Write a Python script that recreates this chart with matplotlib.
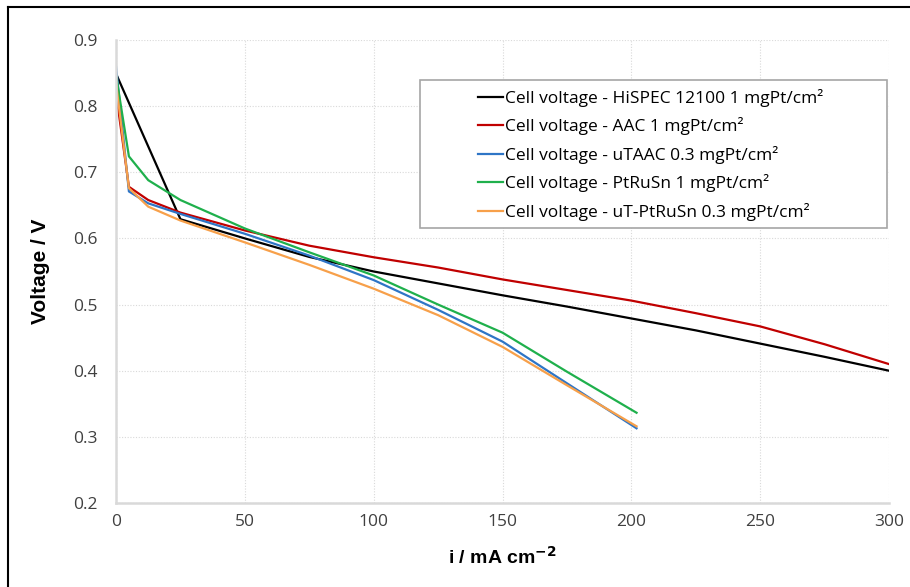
import matplotlib
matplotlib.use("Agg")
import matplotlib.pyplot as plt
from matplotlib.patches import Rectangle
from matplotlib.lines import Line2D

# current density (mA/cm2) and cell voltage (V)
x_long = [0, 25, 50, 75, 100, 125, 150, 175, 200, 225, 250, 275, 300]
v_hispec = [0.849, 0.629, 0.600, 0.572, 0.550, 0.532, 0.514, 0.497, 0.479, 0.461, 0.441, 0.421, 0.400]

x_aac = [0, 5, 12.5, 25, 50, 75, 100, 125, 150, 175, 200, 225, 250, 275, 300]
v_aac = [0.82, 0.678, 0.658, 0.639, 0.612, 0.589, 0.5715, 0.556, 0.538, 0.522, 0.506, 0.487, 0.467, 0.440, 0.410]

x_short = [0, 5, 12.5, 25, 50, 75, 100, 125, 150, 175, 202]
v_utaac = [0.86, 0.671, 0.653, 0.637, 0.607, 0.574, 0.537, 0.492, 0.444, 0.381, 0.313]
v_ptrusn = [0.847, 0.724, 0.688, 0.658, 0.615, 0.579, 0.544, 0.500, 0.4575, 0.3985, 0.3365]
v_ut_ptrusn = [0.835, 0.676, 0.648, 0.627, 0.594, 0.560, 0.524, 0.484, 0.436, 0.378, 0.316]

labels = [
    "Cell voltage - HiSPEC 12100 1 mgPt/cm²",
    "Cell voltage - AAC 1 mgPt/cm²",
    "Cell voltage - uTAAC 0.3 mgPt/cm²",
    "Cell voltage - PtRuSn 1 mgPt/cm²",
    "Cell voltage - uT-PtRuSn 0.3 mgPt/cm²",
]
colors = ["#000000", "#c00000", "#2e75c6", "#1fb04c", "#f7a04a"]

x_ticks = [0, 50, 100, 150, 200, 250, 300]
y_ticks = [0.2, 0.3, 0.4, 0.5, 0.6, 0.7, 0.8, 0.9]

plt.rcParams["font.family"] = ["Open Sans", "DejaVu Sans"]
plt.rcParams["mathtext.default"] = "bf"

fig = plt.figure(figsize=(9.1, 5.87), dpi=100)
ax = fig.add_axes([0.1275, 0.143, 0.8495, 0.789])

series = [(x_long, v_hispec), (x_aac, v_aac), (x_short, v_utaac),
          (x_short, v_ptrusn), (x_short, v_ut_ptrusn)]
for (xs, ys), lab, c in zip(series, labels, colors):
    ax.plot(xs, ys, color=c, lw=1.6, label=lab, solid_joinstyle="round")

ax.set_xlim(0, 300)
ax.set_ylim(0.2, 0.9)
ax.set_xticks(x_ticks)
ax.set_yticks(y_ticks)
ax.set_yticklabels([f"{v:.1f}" for v in y_ticks])
ax.grid(True, color="#d9d9d9", ls=(0, (1, 1.5)), lw=0.8)
ax.set_axisbelow(True)

for s in ["top", "right"]:
    ax.spines[s].set_visible(False)
for s in ["left", "bottom"]:
    ax.spines[s].set_color("#d9d9d9")
    ax.spines[s].set_linewidth(1.8)

ax.tick_params(axis="both", length=0, labelsize=12.5, colors="#404040")
ax.tick_params(axis="y", pad=13)
ax.tick_params(axis="x", pad=8)

ax.set_ylabel("Voltage / V", fontsize=15, fontweight="bold",
              family=["Liberation Sans", "DejaVu Sans"])
ax.set_xlabel("i / mA cm$^{-2}$", fontsize=14, fontweight="bold",
              family=["Liberation Sans", "DejaVu Sans"])
ax.yaxis.set_label_coords(-0.085, 0.5)
ax.xaxis.set_label_coords(0.5, -0.093)

# legend box
ax.add_patch(Rectangle((0.393, 0.594), 0.604, 0.32, transform=ax.transAxes,
                       facecolor="white", edgecolor="#a6a6a6", lw=1.2, zorder=4))
leg = ax.legend(loc="center left", bbox_to_anchor=(0.468, 0.752), frameon=False,
                fontsize=12.5, handlelength=1.45, handletextpad=0.1,
                labelspacing=0.6, borderpad=0, borderaxespad=0)
leg.set_zorder(5)

# outer frame (left and top)
fig.add_artist(Line2D([8 / 910, 8 / 910], [0, 1 - 7 / 587], color="black", lw=1.5))
fig.add_artist(Line2D([8 / 910, 1], [1 - 7 / 587, 1 - 7 / 587], color="black", lw=1.5))

fig.savefig("out.png", dpi=100)
